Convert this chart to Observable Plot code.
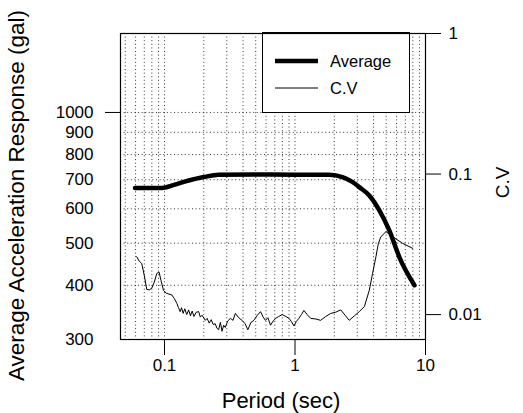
<!DOCTYPE html>
<html>
<head>
<meta charset="utf-8">
<script src="https://cdn.jsdelivr.net/npm/d3@7"></script>
<script src="https://cdn.jsdelivr.net/npm/@observablehq/plot@0.6"></script>
<style>
  html, body { margin: 0; padding: 0; background: #fff; }
  #chart { position: relative; width: 523px; height: 413px; font-family: "Liberation Sans", Arial, sans-serif; }
  #chart svg { position: absolute; left: 0; top: 0; }
</style>
</head>
<body>
<div id="chart"></div>
<script>
// ---- data ----
const periodAvg = [0.0594, 0.0953, 0.12, 0.153, 0.2, 0.26, 0.5, 1.0, 1.83, 2.31, 2.75, 3.11, 3.71, 4.43, 5.28, 6.31, 8.23];
const avgValues = [670, 670, 682, 697, 710, 719, 720, 719, 719, 710, 692, 673, 644, 595, 535, 464, 400];

const periodCV = [0.0612, 0.064, 0.0669, 0.07, 0.0731, 0.0765, 0.0798, 0.0835, 0.0872, 0.0908, 0.094, 0.0982,
  0.103, 0.108, 0.1138, 0.119, 0.1244, 0.128, 0.1318, 0.135, 0.139, 0.143, 0.148, 0.153, 0.158, 0.163, 0.168,
  0.175, 0.1828, 0.188, 0.194, 0.2053, 0.212, 0.22, 0.228, 0.236, 0.245, 0.252, 0.26, 0.268, 0.276, 0.284,
  0.292, 0.305, 0.32, 0.335, 0.349, 0.37, 0.393, 0.415, 0.435, 0.46, 0.484, 0.51, 0.544, 0.57, 0.594, 0.62,
  0.649, 0.68, 0.71, 0.75, 0.798, 0.85, 0.899, 0.94, 0.982, 1.02, 1.07, 1.12, 1.17, 1.24, 1.32, 1.45, 1.57,
  1.72, 1.88, 2.05, 2.24, 2.42, 2.6, 2.85, 3.11, 3.4, 3.71, 3.93, 4.17, 4.35, 4.55, 4.98, 5.6, 6.69, 7.98];
const cvValues = [0.0258, 0.024, 0.0231, 0.019, 0.0151, 0.015, 0.0154, 0.017, 0.0196, 0.0201, 0.0175, 0.0149,
  0.0142, 0.014, 0.0138, 0.013, 0.012, 0.0112, 0.0105, 0.0112, 0.0102, 0.011, 0.01, 0.0108, 0.0098, 0.0106, 0.0097,
  0.0104, 0.0105, 0.0096, 0.0099, 0.0091, 0.0094, 0.0087, 0.0092, 0.0085, 0.0086, 0.008, 0.0078, 0.0088, 0.0076, 0.0084,
  0.0081, 0.009, 0.0094, 0.0091, 0.0102, 0.0095, 0.0091, 0.0086, 0.0078, 0.0088, 0.0091, 0.0098, 0.0105, 0.0096, 0.0091, 0.0095,
  0.0084, 0.009, 0.0094, 0.0097, 0.01, 0.0097, 0.0094, 0.0089, 0.0083, 0.0089, 0.0094, 0.01, 0.0107, 0.01, 0.0094, 0.0093, 0.0091,
  0.0097, 0.0102, 0.0104, 0.0108, 0.0099, 0.0091, 0.0098, 0.0105, 0.0114, 0.0149, 0.0196, 0.0258, 0.032, 0.0358, 0.0389, 0.0358, 0.0321, 0.0296];

const xTicks = [0.1, 1, 10];
const xTickLabels = ["0.1", "1", "10"];
const xGrid = [0.05, 0.06, 0.07, 0.08, 0.09, 0.1, 0.2, 0.3, 0.4, 0.5, 0.6, 0.7, 0.8, 0.9, 1, 2, 3, 4, 5, 6, 7, 8, 9];
const yLeftMajorTicks = [1000];
const yLeftMinorTicks = [300, 400, 500, 600, 700, 800, 900];
const yGrid = [400, 500, 600, 700, 800, 900, 1000];
const yRightTicks = [1, 0.1, 0.01];
const yRightTickLabels = ["1", "0.1", "0.01"];
const seriesNames = ["Average", "C.V"];
const xTitle = "Period (sec)";
const yTitle = "Average Acceleration Response (gal)";
const y2Title = "C.V";

const xDomain = [0.046, 10];
const yLeftDomain = [300, 1520];
const yRightDomain = [0.00665, 1];

// ---- build ----
const avgData = periodAvg.map((p, i) => ({p, v: avgValues[i]}));
const cvData = periodCV.map((p, i) => ({p, v: cvValues[i]}));

const font = '"Liberation Sans", Arial, sans-serif';
const common = {
  width: 523, height: 413,
  marginLeft: 120, marginRight: 98, marginTop: 33, marginBottom: 74,
  style: {fontFamily: font, background: "transparent", overflow: "visible", color: "#000"}
};
const gridStyle = {stroke: "#111", strokeOpacity: 0.85, strokeDasharray: "1,2.6", strokeWidth: 1};

const plotA = Plot.plot({
  ...common,
  x: {type: "log", domain: xDomain},
  y: {type: "log", domain: yLeftDomain},
  marks: [
    Plot.gridX({ticks: xGrid, ...gridStyle}),
    Plot.gridY({ticks: yGrid, ...gridStyle}),
    Plot.line(avgData, {x: "p", y: "v", stroke: "#000", strokeWidth: 4.5, curve: "monotone-x"}),
    Plot.axisX({ticks: xTicks, tickFormat: d => xTickLabels[xTicks.indexOf(d)], tickSize: 16, tickPadding: 3,
      fontSize: 17, label: null, stroke: "#000"}),
    Plot.axisY({ticks: yLeftMajorTicks, tickFormat: d => String(d), tickSize: 15, tickPadding: 12,
      fontSize: 17, label: null}),
    Plot.axisY({ticks: yLeftMinorTicks, tickFormat: d => String(d), tickSize: 0, tickPadding: 27,
      fontSize: 17, label: null}),
    Plot.text([xTitle], {frameAnchor: "bottom", textAnchor: "middle", lineAnchor: "middle", dx: 8, dy: 61,
      fontSize: 22, fill: "#000"}),
    Plot.text([yTitle], {frameAnchor: "left", textAnchor: "middle", lineAnchor: "middle", rotate: -90, dx: -104, dy: 9,
      fontSize: 22.5, fill: "#000"})
  ]
});

const plotB = Plot.plot({
  ...common,
  x: {type: "log", domain: xDomain, axis: null},
  y: {type: "log", domain: yRightDomain},
  marks: [
    Plot.line(cvData, {x: "p", y: "v", stroke: "#000", strokeWidth: 1}),
    Plot.frame({stroke: "#000", strokeWidth: 1.2}),
    Plot.axisY({anchor: "right", ticks: yRightTicks, tickFormat: d => yRightTickLabels[yRightTicks.indexOf(d)],
      tickSize: 15, tickPadding: 8, fontSize: 17, label: null}),
    Plot.text([y2Title], {frameAnchor: "right", textAnchor: "middle", lineAnchor: "middle", rotate: -90, dx: 77, dy: -4,
      fontSize: 19, fill: "#000"})
  ]
});

const chart = document.getElementById("chart");
chart.appendChild(plotA);

// legend box
const legend = document.createElement("div");
legend.style.cssText = "position:absolute;left:262px;top:32px;width:148px;height:81px;border:1px solid #000;background:#fff;box-sizing:border-box;";
const lsvg = d3.create("svg").attr("width", 146).attr("height", 79).style("position", "absolute").style("left", "0").style("top", "0");
const widths = [4.5, 1];
seriesNames.forEach((name, i) => {
  const y = 28 + i * 27;
  lsvg.append("line").attr("x1", 12).attr("x2", 55).attr("y1", y).attr("y2", y)
    .attr("stroke", "#000").attr("stroke-width", widths[i]);
  lsvg.append("text").attr("x", 67).attr("y", y).attr("dy", "0.36em")
    .attr("font-family", font).attr("font-size", 16.5).attr("fill", "#000").text(name);
});
legend.appendChild(lsvg.node());
chart.appendChild(legend);

chart.appendChild(plotB);
</script>
</body>
</html>
